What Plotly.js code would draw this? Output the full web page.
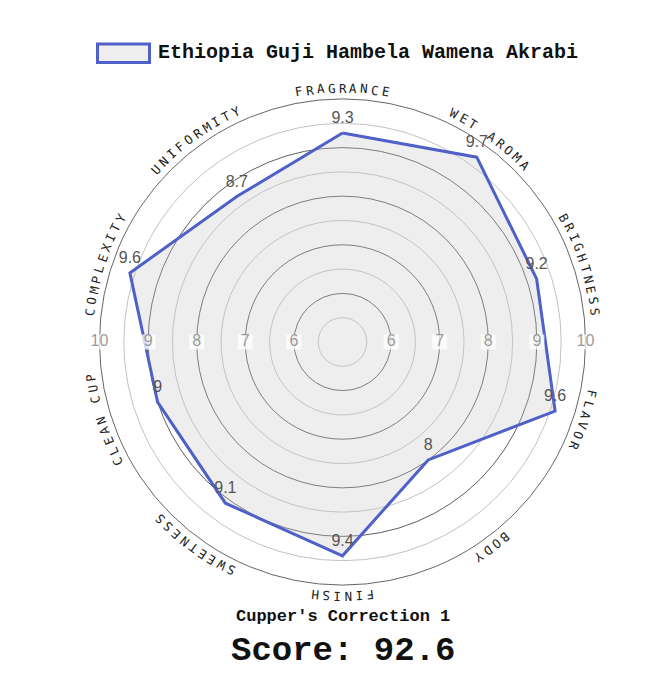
<!DOCTYPE html>
<html>
<head>
<meta charset="utf-8">
<script src="https://cdn.plot.ly/plotly-3.0.1.min.js"></script>
<style>html,body{margin:0;padding:0;background:#fff;}</style>
</head>
<body>
<div id="chart" style="width:672px;height:684px;"></div>
<script>
// Cupping sheet data
const attributes = ['FRAGRANCE', 'WET AROMA', 'BRIGHTNESS', 'FLAVOR', 'BODY', 'FINISH', 'SWEETNESS', 'CLEAN CUP', 'COMPLEXITY', 'UNIFORMITY'];
const scores = [9.3, 9.7, 9.2, 9.6, 8, 9.4, 9.1, 9, 9.6, 8.7];
const coffeeName = 'Ethiopia Guji Hambela Wamena Akrabi';
const scaleTicks = [6, 7, 8, 9, 10];
const majorRings = [6, 7, 8, 9];
const minorRings = [5.5, 6.5, 7.5, 8.5, 9.5];
const scaleRange = [5, 10];
const cupperCorrection = 1;
const totalScore = 92.6;

// Page geometry
const W = 672, H = 684;
const CX = 342.5, CY = 342, RADIUS = 243;
const domainX = [(CX - RADIUS) / W, (CX + RADIUS) / W];
const domainY = [(H - CY - RADIUS) / H, (H - CY + RADIUS) / H];
const px2x = p => p / W;
const px2y = p => 1 - p / H;

const MONO = 'Liberation Mono, Courier New, monospace';
const SANS_MONO = 'DejaVu Sans Mono, monospace';
const SANS = 'Liberation Sans, Arial, sans-serif';
const LINE_BLUE = '#4f61c8';
const FILL_GREY = 'rgba(200,200,200,0.3)';

const hiddenAngular = {showgrid: false, showline: false, showticklabels: false, ticks: '',
  direction: 'clockwise', rotation: 90};

// closed outline of the profile
const theta = attributes.concat([attributes[0]]);
const r = scores.concat([scores[0]]);
const labels = scores.map(String).concat(['']);

const traces = [
  // keeps the half-step ring layer rendered underneath everything else
  {
    type: 'scatterpolar', subplot: 'polar',
    r: [], theta: [], mode: 'lines', showlegend: false, hoverinfo: 'skip'
  },
  {
    type: 'scatterpolar', subplot: 'polar2',
    r: r, theta: theta,
    mode: 'lines+markers+text',
    fill: 'toself',
    fillcolor: FILL_GREY,
    line: {color: LINE_BLUE, width: 3},
    marker: {size: 8, color: 'rgba(0,0,0,0)'},
    text: labels,
    textposition: 'top center',
    textfont: {family: SANS, size: 16, color: '#555'},
    name: coffeeName,
    showlegend: false,
    hoverinfo: 'skip'
  },
  {
    type: 'scatterpolar', subplot: 'polar3',
    r: scaleTicks.concat(scaleTicks),
    theta: scaleTicks.map(() => 90).concat(scaleTicks.map(() => 270)),
    mode: 'markers+text',
    marker: {symbol: 'square', size: 15, color: 'rgba(255,255,255,0.75)'},
    text: scaleTicks.concat(scaleTicks).map(String),
    textposition: 'middle center',
    textfont: {family: SANS, size: 16, color: '#9a9a9a'},
    showlegend: false,
    hoverinfo: 'skip'
  }
];

// attribute names bent along the outer ring, one glyph at a time
const annotations = [];
const labelR = 254, charStep = 11;
const stepDeg = charStep / labelR * 180 / Math.PI;
attributes.forEach((name, i) => {
  const centerDeg = i * 360 / attributes.length;
  const chars = name.split('');
  chars.forEach((ch, j) => {
    if (ch === ' ') return;
    const a = centerDeg + (j - (chars.length - 1) / 2) * stepDeg;
    const rad = a * Math.PI / 180;
    const px = CX + labelR * Math.sin(rad);
    const py = CY - labelR * Math.cos(rad);
    const ang = a > 180 ? a - 360 : a;
    annotations.push({
      xref: 'paper', yref: 'paper', x: px2x(px), y: px2y(py),
      text: ch, textangle: ang, showarrow: false,
      xanchor: 'center', yanchor: 'middle',
      font: {family: SANS_MONO, size: 12.5, color: '#222'}
    });
  });
});

// legend entry
annotations.push({
  xref: 'paper', yref: 'paper', x: px2x(156), y: px2y(53),
  text: coffeeName, showarrow: false,
  xanchor: 'left', yanchor: 'middle',
  font: {family: MONO, size: 20, color: '#111', weight: 'bold'}
});

annotations.push({
  xref: 'paper', yref: 'paper', x: px2x(CX), y: px2y(616),
  text: "Cupper's Correction " + cupperCorrection, showarrow: false,
  xanchor: 'center', yanchor: 'middle',
  font: {family: MONO, size: 17, color: '#111', weight: 'bold'}
});
annotations.push({
  xref: 'paper', yref: 'paper', x: px2x(CX), y: px2y(651),
  text: 'Score: ' + totalScore, showarrow: false,
  xanchor: 'center', yanchor: 'middle',
  font: {family: MONO, size: 34, color: '#111', weight: 'bold'}
});

const shapes = [{
  type: 'rect', xref: 'paper', yref: 'paper',
  x0: px2x(97.5), x1: px2x(149.5), y0: px2y(44), y1: px2y(62.5),
  line: {color: LINE_BLUE, width: 3}, fillcolor: FILL_GREY
}];

const layout = {
  width: W, height: H,
  margin: {l: 0, r: 0, t: 0, b: 0},
  paper_bgcolor: '#fff',
  showlegend: false,
  polar: {
    domain: {x: domainX, y: domainY},
    bgcolor: '#fff',
    angularaxis: hiddenAngular,
    radialaxis: {range: scaleRange, tickvals: minorRings, showgrid: true, gridcolor: '#c2c2c2',
      gridwidth: 1, showline: false, showticklabels: false, ticks: ''}
  },
  polar2: {
    domain: {x: domainX, y: domainY},
    bgcolor: 'rgba(0,0,0,0)',
    angularaxis: {type: 'category', categoryarray: attributes, direction: 'clockwise', rotation: 90,
      showgrid: false, showticklabels: false, ticks: '', showline: true, linecolor: '#666', linewidth: 1},
    radialaxis: {range: scaleRange, tickvals: majorRings, showgrid: true, gridcolor: '#5e5e5e',
      gridwidth: 1, showline: false, showticklabels: false, ticks: ''}
  },
  polar3: {
    domain: {x: domainX, y: domainY},
    bgcolor: 'rgba(0,0,0,0)',
    angularaxis: hiddenAngular,
    radialaxis: {range: scaleRange, showgrid: false, showline: false, showticklabels: false, ticks: ''}
  },
  shapes: shapes,
  annotations: annotations
};

Plotly.newPlot('chart', traces, layout, {staticPlot: true, displayModeBar: false});
</script>
</body>
</html>
